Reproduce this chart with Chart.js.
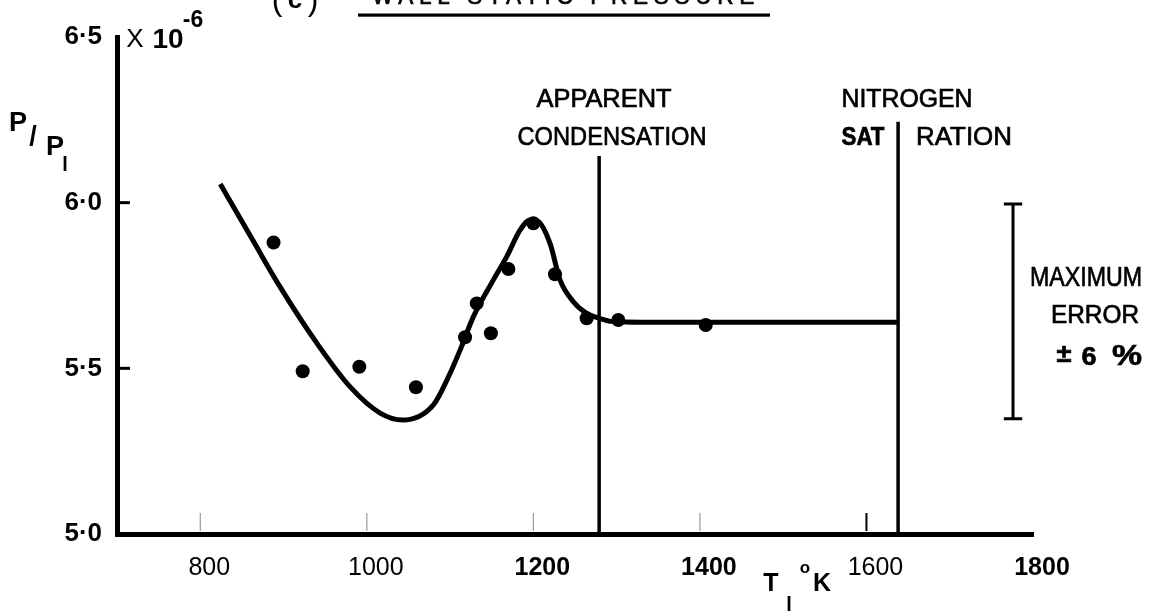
<!DOCTYPE html>
<html>
<head>
<meta charset="utf-8">
<script src="https://cdn.jsdelivr.net/npm/chart.js@4.4.1/dist/chart.umd.min.js"></script>
<style>
  body { margin: 0; background: #fff; }
  canvas { display: block; }
</style>
</head>
<body>
<canvas id="chartCanvas" width="1154" height="612"></canvas>
<script>
// axis ticks
const xTicks = [800, 1000, 1200, 1400, 1600, 1800];
const xBold = [1200, 1400, 1800];
const yTicks = [5.0, 5.5, 6.0, 6.5];
const yTickLabels = ['5·0', '5·5', '6·0', '6·5'];

// measured wall static pressure (x 10^-6)
const measTemp = [888, 923, 991, 1059, 1118, 1132, 1149, 1170, 1200, 1226, 1264, 1302, 1407];
const measP = [5.880, 5.491, 5.505, 5.443, 5.594, 5.696, 5.606, 5.800, 5.938, 5.784, 5.651, 5.646, 5.631];

// faired curve through the points
const fitTemp = [824, 863, 896, 940, 980, 1016, 1043, 1080, 1098, 1112, 1128, 1152, 1168, 1184, 1196, 1206, 1220, 1232, 1248, 1264, 1279, 1296, 1330, 1638];
const fitP = [6.056, 5.887, 5.745, 5.576, 5.444, 5.365, 5.344, 5.390, 5.474, 5.555, 5.656, 5.767, 5.837, 5.917, 5.948, 5.943, 5.877, 5.767, 5.701, 5.666, 5.651, 5.641, 5.639, 5.639];

// marker lines
const condTemp = 1279, condTop = 6.141;
const satTemp = 1638, satTop = 6.244;
const errTemp = 1776, errLow = 5.348, errHigh = 5.996, errCap = 11;

const FONT = '"Liberation Sans", Arial, sans-serif';

function pts(xs, ys) {
    return xs.map((x, i) => ({ x: x, y: ys[i] }));
}

// draw text centred at (cx, cy), squeezed to a given width
function fitText(ctx, str, cx, cy, cap, w, weight) {
    const size = cap / 0.716;
    ctx.font = (weight || 'normal') + ' ' + size + 'px ' + FONT;
    const m = ctx.measureText(str).width;
    ctx.save();
    ctx.translate(cx, cy + cap / 2);
    ctx.scale(w ? w / m : 1, 1);
    ctx.textAlign = 'center';
    ctx.textBaseline = 'alphabetic';
    ctx.lineWidth = 0.7;
    ctx.fillText(str, 0, 0);
    ctx.strokeText(str, 0, 0);
    ctx.restore();
}

const extras = {
    id: 'extras',
    afterDraw(chart) {
        const ctx = chart.ctx;
        const xs = chart.scales.x, ys = chart.scales.y;
        const area = chart.chartArea;
        ctx.save();
        ctx.fillStyle = '#000';
        ctx.strokeStyle = '#000';

        // inner tick marks on the y axis
        ctx.lineWidth = 3;
        [5.5, 6.0].forEach(v => {
            const y = ys.getPixelForValue(v);
            ctx.beginPath();
            ctx.moveTo(area.left, y);
            ctx.lineTo(area.left + 13, y);
            ctx.stroke();
        });

        // inner tick marks on the x axis
        xTicks.slice(0, 5).forEach(v => {
            const x = xs.getPixelForValue(v);
            ctx.strokeStyle = v === 1600 ? '#000' : '#999';
            ctx.lineWidth = v === 1600 ? 2 : 1.2;
            ctx.beginPath();
            ctx.moveTo(x, area.bottom - 3);
            ctx.lineTo(x, area.bottom - 21);
            ctx.stroke();
        });
        ctx.strokeStyle = '#000';

        // title, cut at the top of the page
        ctx.font = '32px ' + FONT;
        ctx.textAlign = 'center';
        ctx.textBaseline = 'alphabetic';
        ctx.fillText('(', 277, 10);
        ctx.fillText(')', 313, 10);
        ctx.font = 'bold 26px ' + FONT;
        ctx.fillText('c', 295, 8);
        ctx.save();
        ctx.letterSpacing = '6px';
        fitText(ctx, 'WALL STATIC PRESSURE', 566, -5, 17, 388);
        ctx.restore();
        ctx.fillRect(358, 13.5, 412, 3.2);

        // y axis label P/P1 and multiplier
        ctx.font = 'bold 27px ' + FONT;
        ctx.textAlign = 'center';
        ctx.fillText('P', 18, 131);
        ctx.fillText('/', 33, 145);
        ctx.fillText('P', 55, 155);
        ctx.font = 'bold 20px ' + FONT;
        ctx.fillText('l', 65, 171);
        ctx.font = '26px ' + FONT;
        ctx.fillText('X', 135, 47);
        ctx.font = 'bold 28px ' + FONT;
        ctx.fillText('10', 168, 48);
        ctx.font = 'bold 23px ' + FONT;
        ctx.fillText('-6', 193, 27);

        // x axis title T1 °K
        ctx.font = 'bold 25px ' + FONT;
        ctx.fillText('T', 771, 591);
        ctx.fillText('K', 822, 591);
        ctx.font = 'bold 20px ' + FONT;
        ctx.fillText('l', 789, 611);
        ctx.font = 'bold 17px ' + FONT;
        ctx.fillText('o', 805, 573);

        // annotations
        fitText(ctx, 'APPARENT', 604, 97, 19, 135);
        fitText(ctx, 'CONDENSATION', 612, 135, 19, 189);
        fitText(ctx, 'NITROGEN', 907, 97, 19, 131);
        fitText(ctx, 'SAT', 863, 135, 19, 43, 'bold');
        fitText(ctx, 'RATION', 964, 135, 19, 96);
        fitText(ctx, 'MAXIMUM', 1086, 276, 20, 112);
        fitText(ctx, 'ERROR', 1095, 314, 18, 88);
        fitText(ctx, '±', 1064, 352, 19, 15, 'bold');
        fitText(ctx, '6', 1089, 355, 19, 15, 'bold');
        fitText(ctx, '%', 1127, 354, 21, 30, 'bold');
        ctx.restore();
    }
};

const blackLine = {
    showLine: true,
    pointRadius: 0,
    borderColor: '#000',
    backgroundColor: '#000',
    fill: false,
};

new Chart(document.querySelector('#chartCanvas'), {
    type: 'scatter',
    data: {
        datasets: [
            {
                label: 'measured',
                data: pts(measTemp, measP),
                pointRadius: 7,
                pointBackgroundColor: '#000',
                pointBorderWidth: 0,
                showLine: false,
            },
            {
                ...blackLine,
                label: 'fit',
                data: pts(fitTemp, fitP),
                borderWidth: 5,
                cubicInterpolationMode: 'monotone',
            },
            {
                ...blackLine,
                label: 'apparent condensation',
                data: pts([condTemp, condTemp], [5.0, condTop]),
                borderWidth: 3.5,
            },
            {
                ...blackLine,
                label: 'nitrogen saturation',
                data: pts([satTemp, satTemp], [5.0, satTop]),
                borderWidth: 3.5,
            },
            {
                ...blackLine,
                label: 'maximum error',
                data: [
                    { x: errTemp - errCap, y: errHigh }, { x: errTemp + errCap, y: errHigh },
                    { x: errTemp, y: null },
                    { x: errTemp, y: errHigh }, { x: errTemp, y: errLow },
                    { x: errTemp, y: null },
                    { x: errTemp - errCap, y: errLow }, { x: errTemp + errCap, y: errLow },
                ],
                borderWidth: 3,
                spanGaps: false,
            },
        ],
    },
    options: {
        responsive: false,
        animation: false,
        layout: {
            padding: { left: 0, right: 121, top: 37, bottom: 0 }
        },
        plugins: {
            legend: { display: false },
            tooltip: { enabled: false },
        },
        scales: {
            x: {
                type: 'linear',
                min: 700,
                max: 1800,
                afterFit: (scale) => { scale.height = 78; },
                afterBuildTicks: (scale) => { scale.ticks = xTicks.map(v => ({ value: v })); },
                border: { color: '#000', width: 5 },
                grid: { display: true, drawOnChartArea: false, drawTicks: false },
                ticks: {
                    color: '#000',
                    padding: 19,
                    labelOffset: 9,
                    maxRotation: 0,
                    autoSkip: false,
                    callback: (v) => String(v),
                    font: (c) => ({
                        family: FONT,
                        size: 25,
                        weight: (c.tick && xBold.includes(c.tick.value)) ? 'bold' : 'normal'
                    }),
                },
            },
            y: {
                type: 'linear',
                min: 5.0,
                max: 6.5,
                afterFit: (scale) => { scale.width = 117; },
                afterBuildTicks: (scale) => { scale.ticks = yTicks.map(v => ({ value: v })); },
                border: { color: '#000', width: 5 },
                grid: { display: true, drawOnChartArea: false, drawTicks: false },
                ticks: {
                    color: '#000',
                    padding: 15,
                    autoSkip: false,
                    callback: (v) => yTickLabels[yTicks.indexOf(v)],
                    font: { family: FONT, size: 26, weight: 'bold' },
                },
            },
        },
    },
    plugins: [extras],
});
</script>
</body>
</html>
